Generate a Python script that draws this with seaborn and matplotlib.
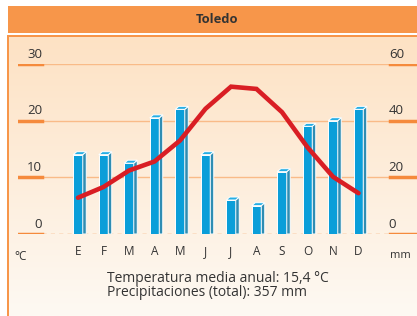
import numpy as np
import matplotlib
matplotlib.use("Agg")
import matplotlib.pyplot as plt
from matplotlib.patches import Polygon, Rectangle
import seaborn as sns

months = ["E", "F", "M", "A", "M", "J", "J", "A", "S", "O", "N", "D"]
temp_c = [6.4, 8.3, 11.2, 12.8, 16.5, 22.1, 26.0, 25.6, 21.5, 15.3, 10.1, 7.2]
precip_mm = [28, 28, 25, 41, 44, 28, 12, 10, 22, 38, 40, 44]
temp_ticks = [0, 10, 20, 30]
precip_ticks = [0, 20, 40, 60]
title = "Toledo"
summary = ["Temperatura media anual: 15,4 °C", "Precipitaciones (total): 357 mm"]

# ---- style ----
W, H = 417, 316
orange = "#f7964a"
orange_dark = "#f58a3c"
orange_light = "#f9bb88"
blue = "#0a9ed9"
blue_side = "#2f8db3"
blue_top = "#25aee4"
red = "#d91e24"
txt = "#333333"
plt.rcParams["font.family"] = ["Open Sans", "DejaVu Sans"]

fig = plt.figure(figsize=(W / 100, H / 100), dpi=100)

# background / frame in pixel coords
bg = fig.add_axes([0, 0, 1, 1])
bg.set_xlim(0, W)
bg.set_ylim(H, 0)
bg.axis("off")
grad = np.linspace(0, 1, 256).reshape(-1, 1)
cmap = matplotlib.colors.LinearSegmentedColormap.from_list("p", ["#fde2c4", "#fef9f3"])
bg.imshow(grad, cmap=cmap, extent=[8, W, H, 37], aspect="auto", zorder=0)
bg.add_patch(Rectangle((8, 6), W - 8, 27, color=orange, lw=0, zorder=1))
bg.add_patch(Rectangle((8, 35), W - 8, 2, color=orange, lw=0, zorder=1))
bg.add_patch(Rectangle((7, 35), 2.5, H - 35, color=orange, lw=0, zorder=1))
bg.text(217, 19.5, title, ha="center", va="center", fontsize=9.3,
        fontweight="bold", color=txt)
bg.text(21, 256, "°C", ha="center", va="center", fontsize=8.5, color=txt)
bg.text(400, 256, "mm", ha="center", va="center", fontsize=8, color=txt)
bg.text(107, 278, summary[0], ha="left", va="center", fontsize=10, color=txt)
bg.text(107, 293, summary[1], ha="left", va="center", fontsize=10, color=txt)

# data axes: x 18..417 px, y 0-line at 234 px, 30 at 64 px
left, right = 18, W
ax = fig.add_axes([left / W, (H - 234) / H, (right - left) / W, 170 / H])
ax2 = ax.twinx()

idx = np.arange(len(months))
bw = 9.5 / 25.5
sns.barplot(x=idx, y=precip_mm, ax=ax2, width=bw, color=blue, saturation=1,
            edgecolor="white", linewidth=0.7, zorder=3)
dx = 3.5 / 25.5
dy = 3 / 2.85
for p in ax2.patches:
    x0, w, h = p.get_x(), p.get_width(), p.get_height()
    x1 = x0 + w
    ax2.add_patch(Polygon([(x1, 0), (x1 + dx, 0), (x1 + dx, h + dy), (x1, h)],
                          closed=True, fc=blue_side, ec="white", lw=0.7, zorder=3))
    ax2.add_patch(Polygon([(x0, h), (x1, h), (x1 + dx, h + dy), (x0 + dx, h + dy)],
                          closed=True, fc=blue_top, ec="white", lw=0.7, zorder=3))

# grid lines behind bars
fl = (42 - left) / (right - left)
fr = (390 - left) / (right - left)
for v in precip_ticks:
    if v == 0:
        ax2.axhline(v, xmin=fl, xmax=fr, color=orange, lw=1, ls=(0, (3, 3)), zorder=1)
    else:
        ax2.axhline(v, color=orange_light, lw=1, zorder=1)
    ax2.axhline(v, xmin=0, xmax=fl, color=orange_dark, lw=2.5, zorder=1)
    ax2.axhline(v, xmin=fr, xmax=1, color=orange_dark, lw=2.5, zorder=1)
    ax2.text(fr - 0.003, v + 1.2, str(v), transform=ax2.get_yaxis_transform(),
             ha="left", va="bottom", fontsize=9.5, color=txt)
for v in temp_ticks:
    ax.text(fl, v + 0.6, str(v), transform=ax.get_yaxis_transform(),
            ha="right", va="bottom", fontsize=9.5, color=txt)

sns.lineplot(x=idx, y=temp_c, ax=ax, color=red, lw=3.3, zorder=5,
             solid_capstyle="round", solid_joinstyle="miter")

xl = (-(78 - left) / 25.5, (right - 78) / 25.5)
for a, lim in ((ax, (0, 30)), (ax2, (0, 60))):
    a.set_xlim(*xl)
    a.set_ylim(*lim)
    for s in a.spines.values():
        s.set_visible(False)
    a.set_yticks([])
    a.set_ylabel("")
ax.set_zorder(ax2.get_zorder() + 1)
ax.patch.set_visible(False)
ax.set_xticks(idx, months)
ax.tick_params(axis="x", length=0, pad=8, labelsize=8.5, labelcolor=txt)
ax2.tick_params(axis="x", length=0)

fig.savefig("out.png", dpi=100)
